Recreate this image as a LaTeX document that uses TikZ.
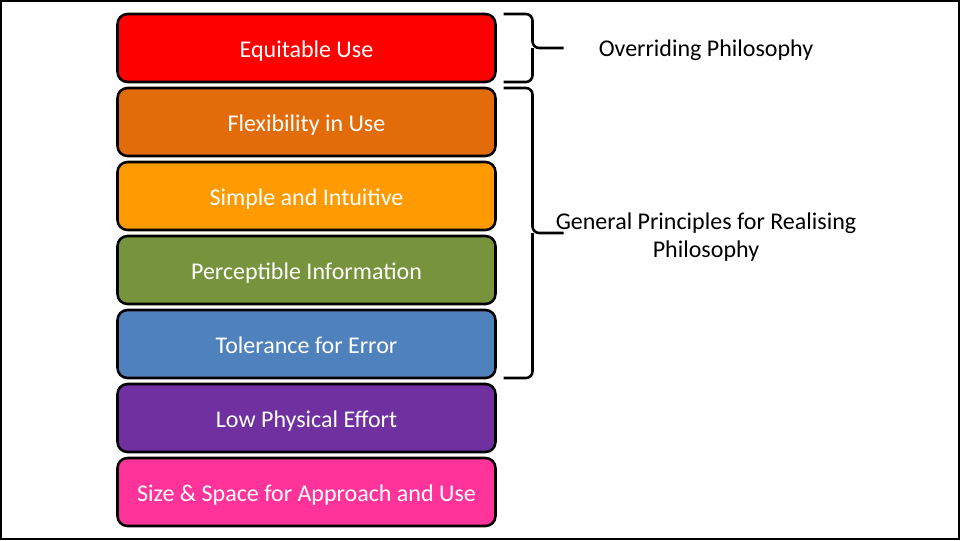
\documentclass[tikz,border=0pt]{standalone}
\usepackage{fontspec}
\setmainfont{Carlito}
\usepackage{tikz}
\usetikzlibrary{positioning, calc}

\definecolor{eqred}{HTML}{FF0000}
\definecolor{flexorange}{HTML}{E36C0A}
\definecolor{simpleamber}{HTML}{FF9A00}
\definecolor{percgreen}{HTML}{77933C}
\definecolor{tolblue}{HTML}{4F81BD}
\definecolor{lowpurple}{HTML}{7030A0}
\definecolor{sizepink}{HTML}{FF3399}

\begin{document}
\begin{tikzpicture}[x=0.75pt, y=-0.75pt,
  principle/.style={draw=black, line width=1.9pt, rounded corners=7.5pt,
    minimum width=283.5pt, minimum height=51pt, outer sep=0pt,
    text height=16pt, text depth=2pt,
    text=white, font=\fontsize{18}{21}\selectfont},
  bracket/.style={draw=black, line width=1.9pt, rounded corners=5pt},
  caption/.style={align=center, font=\fontsize{18}{21}\selectfont},
  node distance=4.5pt]
  \useasboundingbox (0,0) rectangle (960,540);
  \draw[line width=1.6pt] (1,1) rectangle (959,539);

  % Principles
  \node[principle, fill=eqred] (equit) at (306.5,48) {Equitable Use};
  \node[principle, fill=flexorange, below=of equit] (flex) {Flexibility in Use};
  \node[principle, fill=simpleamber, below=of flex] (simple) {Simple and Intuitive};
  \node[principle, fill=percgreen, below=of simple] (perc) {Perceptible Information};
  \node[principle, fill=tolblue, below=of perc] (tol) {Tolerance for Error};
  \node[principle, fill=lowpurple, below=of tol] (low) {Low Physical Effort};
  \node[principle, fill=sizepink, below=of low] (size) {Size \& Space for Approach and Use};

  % Braces
  \coordinate (tipA) at ($(equit.east)+(68,0)$);
  \draw[bracket] ($(equit.north east)+(8,0)$) -| ($(equit.east)+(37,0)$) -- (tipA);
  \draw[bracket] ($(equit.south east)+(8,0)$) -| ($(equit.east)+(37,0)$);
  \coordinate (midB) at ($(flex.north east)!0.5!(tol.south east)$);
  \coordinate (tipB) at ($(midB)+(68,0)$);
  \draw[bracket] ($(flex.north east)+(8,0)$) -| ($(midB)+(37,0)$) -- (tipB);
  \draw[bracket] ($(tol.south east)+(8,0)$) -| ($(midB)+(37,0)$);

  % Labels
  \node[caption] (overriding) at (706,50) {Overriding Philosophy};
  \node[caption] (general) at (706,237) {General Principles for Realising\\Philosophy};
\end{tikzpicture}
\end{document}
